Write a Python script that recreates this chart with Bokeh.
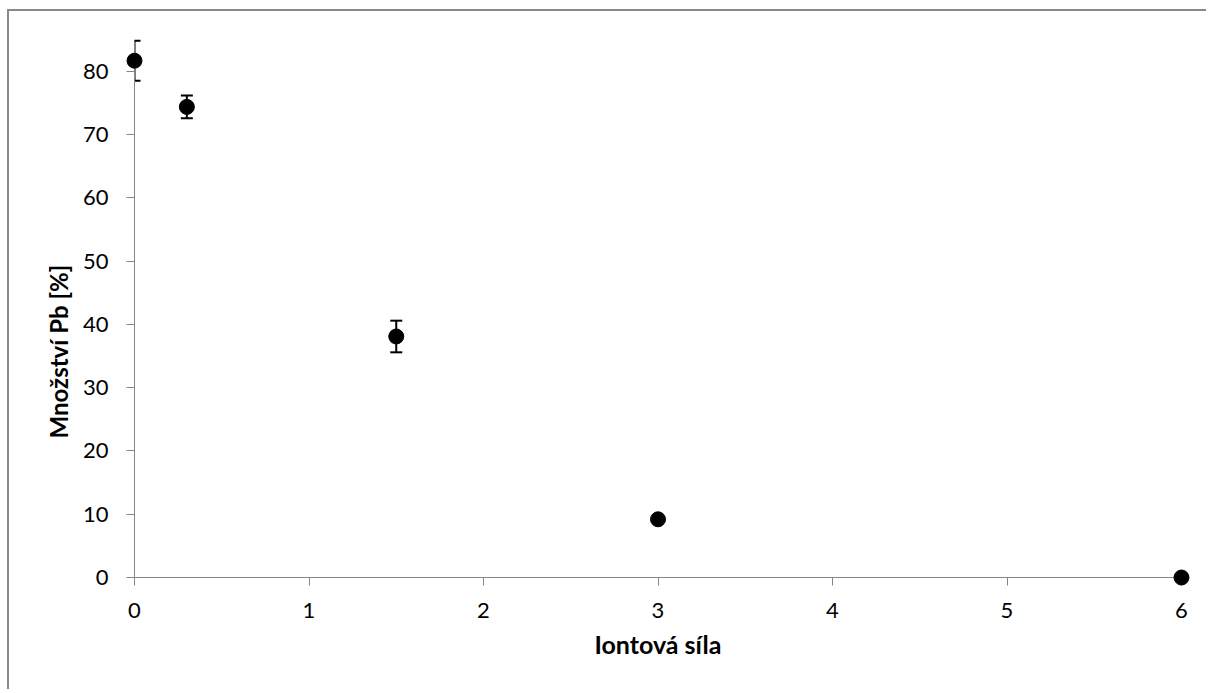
from bokeh.plotting import figure
from bokeh.models import Range1d, FixedTicker, Title
from bokeh.embed import file_html
from bokeh.resources import INLINE

# data
ionic_strength = [0, 0.3, 1.5, 3, 6]
pb_amount = [81.7, 74.4, 38.1, 9.2, 0.0]
pb_error = [3.15, 1.8, 2.5, 0.0, 0.0]
x_ticks = [0, 1, 2, 3, 4, 5, 6]
y_ticks = [0, 10, 20, 30, 40, 50, 60, 70, 80]
x_title = "Iontová síla"
y_title = "Množství Pb [%]"

FONT = "Lato"
AXIS_COLOR = "#868686"

p = figure(width=1199, height=680, output_backend="svg", toolbar_location=None,
           x_range=Range1d(0, 6), y_range=Range1d(0, 86),
           min_border_left=125, min_border_right=27, min_border_top=22, min_border_bottom=114,
           styles={"border-left": "2px solid #898989", "border-top": "2px solid #898989",
                   "margin-left": "7px", "margin-top": "9px"})
p.outline_line_color = None
p.grid.visible = False
p.background_fill_color = "white"
p.border_fill_color = "white"

for ax in (p.xaxis[0], p.yaxis[0]):
    ax.axis_line_color = AXIS_COLOR
    ax.axis_line_width = 1
    ax.major_tick_line_color = AXIS_COLOR
    ax.major_tick_in = 0
    ax.major_tick_out = 8
    ax.minor_tick_line_color = None
    ax.major_label_text_font = FONT
    ax.major_label_text_font_size = "22px"
    ax.major_label_text_color = "black"

p.xaxis.ticker = FixedTicker(ticks=x_ticks)
p.yaxis.ticker = FixedTicker(ticks=y_ticks)
p.yaxis.bounds = (0, 80)
p.xaxis.major_label_standoff = 17
p.yaxis.major_label_standoff = 18

p.xaxis.axis_label = x_title
p.xaxis.axis_label_text_font = FONT
p.xaxis.axis_label_text_font_style = "bold"
p.xaxis.axis_label_text_font_size = "25px"
p.xaxis.axis_label_text_color = "black"
p.xaxis.axis_label_standoff = 8

# error bars
lower = [v - e for v, e in zip(pb_amount, pb_error)]
upper = [v + e for v, e in zip(pb_amount, pb_error)]
p.segment(x0=ionic_strength, y0=lower, x1=ionic_strength, y1=upper, line_color="black", line_width=2)
p.scatter(x=ionic_strength, y=upper, marker="dash", size=12, line_color="black", line_width=2)
p.scatter(x=ionic_strength, y=lower, marker="dash", size=12, line_color="black", line_width=2)

# markers (drawn unclipped like the original)
pts = p.scatter(x=ionic_strength, y=pb_amount, marker="circle", size=15,
                fill_color="black", line_color="black")
pts.level = "overlay"

# y axis title
p.add_layout(Title(text=y_title, align="left", offset=139, standoff=14, text_font=FONT,
                   text_font_style="bold", text_font_size="24px", text_color="black"), "left")

open("out.html", "w").write(file_html(p, INLINE))
